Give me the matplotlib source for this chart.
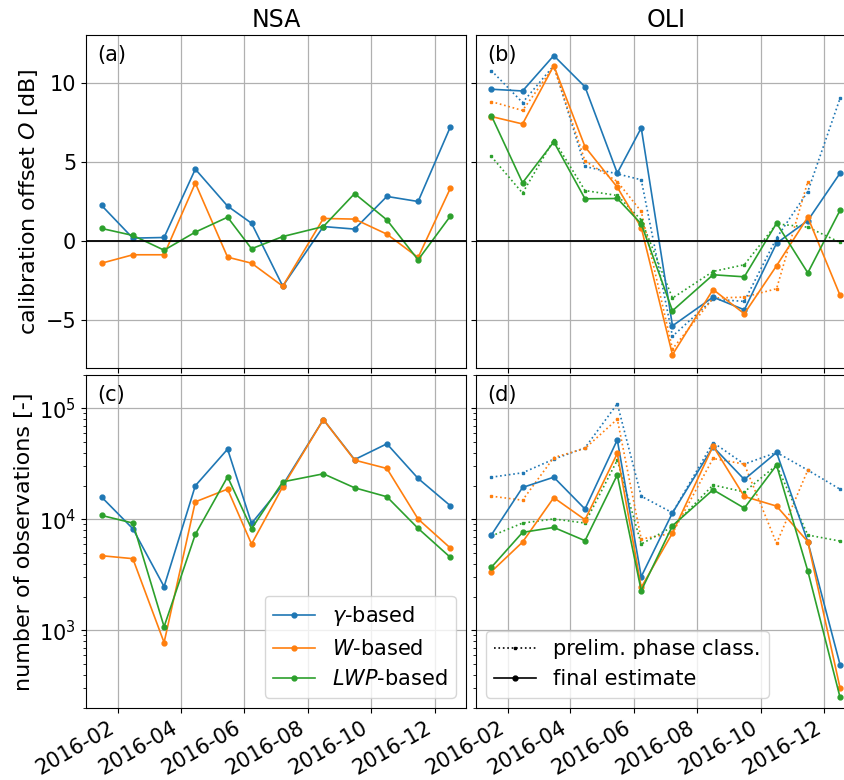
import numpy as np
import pandas as pd
import matplotlib
matplotlib.use("Agg")
import matplotlib.pyplot as plt
import matplotlib.dates as mdates
from matplotlib.lines import Line2D

dates = pd.to_datetime(["2016-01-16", "2016-02-15", "2016-03-16", "2016-04-15", "2016-05-16", "2016-06-08",
                        "2016-07-08", "2016-08-16", "2016-09-15", "2016-10-16", "2016-11-15", "2016-12-16"])

# calibration offset [dB], NSA
nsa_off_gamma = [2.25, 0.19, 0.23, 4.54, 2.21, 1.13, -2.84, 0.92, 0.76, 2.82, 2.50, 7.21]
nsa_off_w = [-1.39, -0.86, -0.86, 3.66, -1.01, -1.39, -2.84, 1.43, 1.39, 0.44, -1.03, 3.34]
nsa_off_lwp = [0.80, 0.36, -0.57, 0.57, 1.51, -0.48, 0.29, 0.92, 3.00, 1.34, -1.18, 1.58]

# calibration offset [dB], OLI (final + preliminary)
oli_off_gamma = [9.58, 9.47, 11.70, 9.73, 4.29, 7.14, -5.34, -3.53, -4.33, -0.13, 1.30, 4.29]
oli_off_w = [7.86, 7.39, 11.07, 5.95, 3.40, 0.86, -7.16, -3.05, -4.58, -1.55, 1.51, -3.42]
oli_off_lwp = [7.92, 3.68, 6.26, 2.67, 2.69, 1.09, -4.39, -2.12, -2.25, 1.13, -2.00, 1.95]
oli_off_gamma_pre = [10.76, 8.74, 11.07, 4.71, 4.24, 3.87, -6.0, -3.66, -3.80, 0.2, 3.13, 9.01]
oli_off_w_pre = [8.80, 8.24, 11.0, 5.06, 3.76, 1.87, -6.8, -3.59, -3.53, -3.0, 3.76, np.nan]
oli_off_lwp_pre = [5.34, 3.03, 6.39, 3.19, 2.88, 1.34, -3.59, -1.91, -1.49, 1.09, 0.88, -0.08]

# number of observations, NSA
nsa_n_gamma = [15900, 8240, 2480, 20100, 42950, 9200, 20400, 79400, 34600, 48000, 23400, 13270]
nsa_n_w = [4710, 4430, 778, 14400, 18750, 6000, 19700, 79400, 34200, 28770, 10070, 5520]
nsa_n_lwp = [10860, 9270, 1080, 7330, 24200, 8240, 21800, 25750, 19270, 16000, 8300, 4550]

# number of observations, OLI (final + preliminary)
oli_n_gamma = [7230, 19400, 24000, 12400, 52100, 3050, 11470, 45100, 22900, 40100, 6300, 490]
oli_n_w = [3380, 6250, 15700, 9930, 39300, 2440, 7540, 45800, 16100, 13180, 6300, 302]
oli_n_lwp = [3700, 7640, 8470, 6430, 25200, 2280, 8770, 18500, 12640, 30800, 3430, 249]
oli_n_gamma_pre = [24000, 26300, 34900, 44200, 110000, 16200, 11470, 49300, 31500, 40100, 27800, 18700]
oli_n_w_pre = [16200, 14900, 36100, 43600, 80000, 6650, 7500, 35400, 31500, 6080, 27800, np.nan]
oli_n_lwp_pre = [7080, 9270, 10100, 9270, 34200, 6000, 8590, 20400, 17700, 30800, 7230, 6380]

labels = [r"$\gamma$-based", r"$W$-based", r"$LWP$-based"]
colors = ["C0", "C1", "C2"]

fig = plt.figure(figsize=(8.44, 7.8), dpi=100)
W, H = 844, 780
def pos(x0, y0, w, h):
    return [x0 / W, 1 - (y0 + h) / H, w / W, h / H]

ax_a = fig.add_axes(pos(86, 35, 380, 333))
ax_b = fig.add_axes(pos(475.7, 35, 380, 333), sharex=ax_a, sharey=ax_a)
ax_c = fig.add_axes(pos(86, 375, 380, 333), sharex=ax_a)
ax_d = fig.add_axes(pos(475.7, 375, 380, 333), sharex=ax_a, sharey=ax_c)

fs = 15
solid = dict(marker="o", markersize=3.5, lw=1.2)
dotted = dict(ls=":", marker="s", markersize=1.5, lw=1.2)

for vals, c, lab in zip([nsa_off_gamma, nsa_off_w, nsa_off_lwp], colors, labels):
    ax_a.plot(dates, vals, color=c, label=lab, **solid)
for vals, c in zip([oli_off_gamma_pre, oli_off_w_pre, oli_off_lwp_pre], colors):
    ax_b.plot(dates, vals, color=c, **dotted)
for vals, c in zip([oli_off_gamma, oli_off_w, oli_off_lwp], colors):
    ax_b.plot(dates, vals, color=c, **solid)

for vals, c, lab in zip([nsa_n_gamma, nsa_n_w, nsa_n_lwp], colors, labels):
    ax_c.plot(dates, vals, color=c, label=lab, **solid)
for vals, c in zip([oli_n_gamma_pre, oli_n_w_pre, oli_n_lwp_pre], colors):
    ax_d.plot(dates, vals, color=c, **dotted)
for vals, c in zip([oli_n_gamma, oli_n_w, oli_n_lwp], colors):
    ax_d.plot(dates, vals, color=c, **solid)

for ax in (ax_a, ax_b):
    ax.axhline(0, color="k", lw=1.3)
ax_a.set_ylim(-8, 13)
ax_c.set_yscale("log")
ax_c.set_ylim(200, 2e5)
ax_a.set_xlim(pd.Timestamp("2016-01-01"), pd.Timestamp("2016-12-31"))
ax_c.xaxis.set_major_locator(mdates.MonthLocator(bymonth=[2, 4, 6, 8, 10, 12]))
ax_c.xaxis.set_major_formatter(mdates.DateFormatter("%Y-%m"))

for ax, letter in zip([ax_a, ax_b, ax_c, ax_d], "abcd"):
    ax.grid(True, which="major", color="#b0b0b0", lw=0.9)
    ax.text(0.03, 0.97, f"({letter})", transform=ax.transAxes, fontsize=fs, va="top")
    ax.tick_params(labelsize=fs)

for ax in (ax_a, ax_b):
    ax.tick_params(axis="x", labelbottom=False)
for ax in (ax_b, ax_d):
    ax.tick_params(axis="y", labelleft=False)
for ax in (ax_c, ax_d):
    ax.tick_params(axis="x", labelrotation=30)
    for lbl in ax.get_xticklabels():
        lbl.set_ha("right")

ax_a.set_title("NSA", fontsize=17)
ax_b.set_title("OLI", fontsize=17)
ax_a.set_ylabel(r"calibration offset $O$ [dB]", fontsize=16)
ax_c.set_ylabel("number of observations [-]", fontsize=16)

ax_c.legend(loc="lower right", fontsize=fs)
handles = [Line2D([], [], color="k", **dotted), Line2D([], [], color="k", **solid)]
ax_d.legend(handles, ["prelim. phase class.", "final estimate"], loc="lower left", fontsize=fs)

fig.savefig("out.png", dpi=100)
